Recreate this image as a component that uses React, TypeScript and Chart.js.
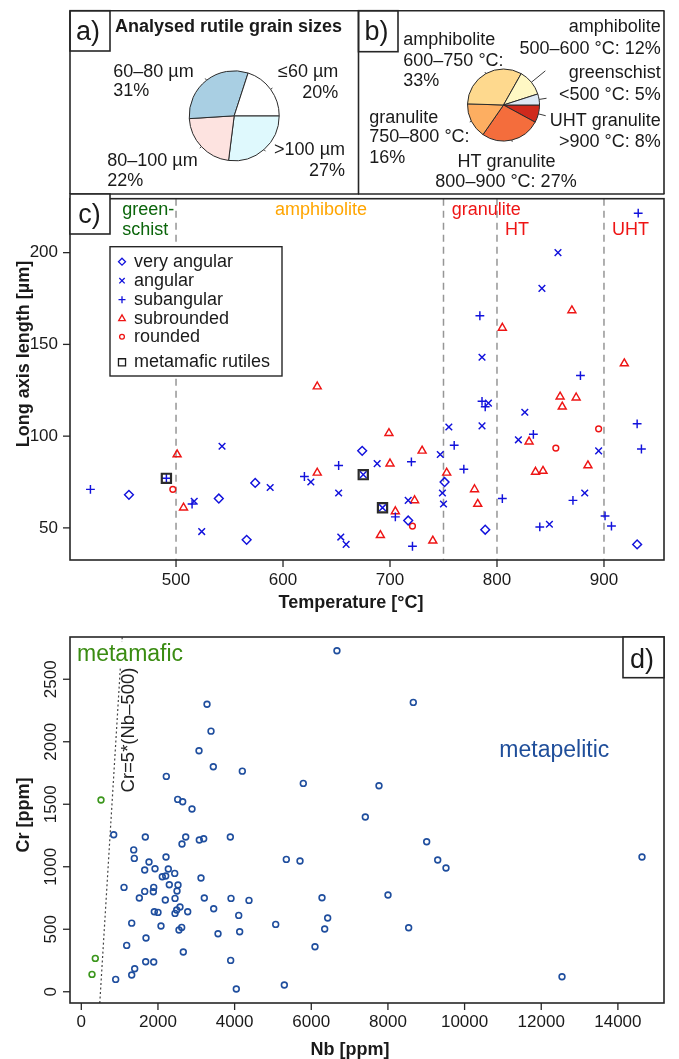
import React, { useEffect, useRef } from "react";
import { Chart, registerables } from "chart.js";
Chart.register(...registerables);

const FONT = '"Liberation Sans", Arial, Helvetica, sans-serif';
const W = 679;
const FRAME = "#262626";
const BLUE = "#1212dc";
const RED = "#ee1515";

// ---------------- panel a: grain sizes ----------------
const grainLabels = ["≤60 µm", "60–80 µm", "80–100 µm", ">100 µm"];
const grainShares = [20, 31, 22, 27];
const grainColors = ["#ffffff", "#a9cfe3", "#fde3e0", "#dff9fd"];
const grainTickExt = [1.05, 1.05, 1.05, 1.05];

// ---------------- panel b: metamorphic facies ----------------
const faciesLabels = [
  "greenschist <500 °C",
  "amphibolite 500–600 °C",
  "amphibolite 600–750 °C",
  "granulite 750–800 °C",
  "HT granulite 800–900 °C",
  "UHT granulite >900 °C",
];
const faciesShares = [5, 12, 33, 16, 27, 8];
const faciesColors = ["#dde9f5", "#fff8c4", "#fed98e", "#fdae61", "#f46d3c", "#cf2a1c"];
const faciesTickExt = [1.21, 1.5, 1.05, 1.05, 1.05, 1.21];

// ---------------- panel c: temperature vs long axis ----------------
const tempTicks = [500, 600, 700, 800, 900];
const lengthTicks = [50, 100, 150, 200];
const faciesBounds = [500, 750, 800, 900];

const veryAngular = [
  [456, 68], [540, 66], [566, 43.5], [574, 74.5], [674, 92], [717, 54], [751, 75], [789, 49], [931, 41],
];
const angular = [
  [517, 64.5], [524, 48], [543, 94.5], [588, 72], [626, 75], [652, 69], [654, 45], [659, 41],
  [675, 79], [688, 85], [693, 61], [717, 65], [747, 90], [749, 69], [750, 63], [755, 105],
  [786, 105.6], [792, 118], [786, 143], [842, 180.5], [857, 200], [826, 113], [820, 98],
  [895, 92], [882, 69], [849, 52],
];
const subangular = [
  [420, 71], [491, 77], [515, 63], [620, 78], [652, 84], [705, 56], [720, 86], [721, 40],
  [760, 95], [769, 82], [786, 119], [789, 116], [784, 165.6], [878, 133], [931, 106.7],
  [935, 93], [834, 101], [805, 66], [871, 65], [901, 56.5], [907, 51], [840, 50.5], [932, 221.5],
];
const subrounded = [
  [501, 90], [507, 61], [632, 80], [632, 127], [700, 85], [699, 101.6], [705, 59], [723, 65],
  [730, 92], [740, 43], [691, 46], [753, 80], [779, 71], [782, 63], [805, 159], [870, 168.5],
  [919, 139.6], [859, 121.5], [874, 121], [861, 116], [830, 97], [885, 84], [836, 80.5], [843, 81],
];
const rounded = [[497, 71], [721, 51], [895, 104], [855, 93.5]];
const metamaficRutiles = [[491, 77], [675, 79], [693, 61]];

// ---------------- panel d: Nb vs Cr ----------------
const nbTicks = [0, 2000, 4000, 6000, 8000, 10000, 12000, 14000];
const crTicks = [0, 500, 1000, 1500, 2000, 2500];
const metapelitic = [
  [6670, 2728], [3280, 2300], [3384, 2085], [3071, 1928], [3444, 1800], [4201, 1765], [2218, 1723],
  [5792, 1667], [2515, 1539], [2645, 1520], [2888, 1462], [845, 1256], [1670, 1238], [2724, 1238],
  [2627, 1182], [3079, 1214], [3193, 1224], [3888, 1238], [1367, 1135], [1383, 1067], [1766, 1038],
  [2210, 1078], [1654, 974], [1923, 984], [2270, 982], [2437, 947], [2113, 920], [2202, 926],
  [3123, 910], [5349, 1059], [5706, 1046], [1114, 835], [1889, 835], [1654, 803], [1879, 800],
  [2296, 856], [2523, 854], [2497, 806], [1514, 750], [2192, 734], [2445, 747], [3209, 750],
  [3906, 747], [4375, 731], [6280, 752], [2575, 678], [2489, 654], [2445, 627], [1905, 640],
  [2001, 635], [2776, 640], [3454, 664], [4107, 611], [6428, 590], [5072, 539], [6350, 502],
  [1315, 549], [2079, 526], [2549, 494], [2619, 515], [3567, 464], [4132, 480], [1688, 430],
  [1184, 371], [6097, 360], [2661, 318], [1680, 240], [1889, 238], [3897, 251], [1393, 184],
  [1315, 134], [897, 99], [4044, 22], [5297, 54], [8662, 2315], [7767, 1648], [7410, 1398],
  [9011, 1200], [9299, 1054], [9515, 990], [14629, 1078], [8002, 774], [8541, 512], [12542, 120],
];
const metamafic = [[514, 1534], [365, 267], [279, 139]];
const discrimNb0 = 500;
const discrimSlope = 5;

// ---------------- helpers ----------------
type TOpt = {
  size?: number; bold?: boolean; color?: string; align?: CanvasTextAlign;
  baseline?: CanvasTextBaseline; rot?: number;
};
function text(ctx: CanvasRenderingContext2D, s: string, x: number, y: number, o: TOpt = {}) {
  ctx.save();
  ctx.font = `${o.bold ? "bold " : ""}${o.size ?? 18}px ${FONT}`;
  ctx.fillStyle = o.color ?? "#1a1a1a";
  ctx.textAlign = o.align ?? "left";
  ctx.textBaseline = o.baseline ?? "alphabetic";
  ctx.translate(x, y);
  if (o.rot) ctx.rotate(o.rot);
  ctx.fillText(s, 0, 0);
  ctx.restore();
}
function line(ctx: CanvasRenderingContext2D, x1: number, y1: number, x2: number, y2: number, color = FRAME, lw = 1.6, dash: number[] = []) {
  ctx.save();
  ctx.strokeStyle = color;
  ctx.lineWidth = lw;
  ctx.setLineDash(dash);
  ctx.beginPath();
  ctx.moveTo(x1, y1);
  ctx.lineTo(x2, y2);
  ctx.stroke();
  ctx.restore();
}
function box(ctx: CanvasRenderingContext2D, x1: number, y1: number, x2: number, y2: number, fill?: string, lw = 1.6) {
  ctx.save();
  if (fill) {
    ctx.fillStyle = fill;
    ctx.fillRect(x1, y1, x2 - x1, y2 - y1);
  }
  ctx.strokeStyle = FRAME;
  ctx.lineWidth = lw;
  ctx.strokeRect(x1, y1, x2 - x1, y2 - y1);
  ctx.restore();
}
function marker(ctx: CanvasRenderingContext2D, style: string, x: number, y: number, r: number, color: string, lw: number) {
  ctx.save();
  ctx.strokeStyle = color;
  ctx.lineWidth = lw;
  ctx.beginPath();
  const s3 = Math.sin((2 * Math.PI) / 3), c3 = Math.cos((2 * Math.PI) / 3);
  switch (style) {
    case "rectRot":
      ctx.moveTo(x, y - r); ctx.lineTo(x + r, y); ctx.lineTo(x, y + r); ctx.lineTo(x - r, y); ctx.closePath();
      break;
    case "crossRot": {
      const d = r * Math.SQRT1_2;
      ctx.moveTo(x - d, y - d); ctx.lineTo(x + d, y + d); ctx.moveTo(x + d, y - d); ctx.lineTo(x - d, y + d);
      break;
    }
    case "cross":
      ctx.moveTo(x - r, y); ctx.lineTo(x + r, y); ctx.moveTo(x, y - r); ctx.lineTo(x, y + r);
      break;
    case "triangle":
      ctx.moveTo(x, y - r); ctx.lineTo(x + r * s3, y - r * c3); ctx.lineTo(x - r * s3, y - r * c3); ctx.closePath();
      break;
    case "circle":
      ctx.arc(x, y, r, 0, Math.PI * 2);
      break;
    case "rect": {
      const h = r * Math.SQRT1_2;
      ctx.rect(x - h, y - h, 2 * h, 2 * h);
      break;
    }
  }
  ctx.stroke();
  ctx.restore();
}
const toXY = (arr: number[][]) => arr.map(([x, y]) => ({ x, y }));

// pie tick marks (R style)
function pieTicks(chart: any, ext: number[]) {
  const ctx: CanvasRenderingContext2D = chart.ctx;
  const meta = chart.getDatasetMeta(0);
  meta.data.forEach((arc: any, i: number) => {
    const p = arc.getProps(["x", "y", "startAngle", "endAngle", "outerRadius"], true);
    const a = (p.startAngle + p.endAngle) / 2;
    const r = p.outerRadius;
    line(ctx, p.x + Math.cos(a) * r, p.y + Math.sin(a) * r, p.x + Math.cos(a) * r * ext[i], p.y + Math.sin(a) * r * ext[i], "#3a3a3a", 1);
  });
}

// ---------------- chart builders ----------------
function makePieA(canvas: HTMLCanvasElement) {
  const rev = <T,>(a: T[]) => [...a].reverse();
  return new Chart(canvas, {
    type: "pie",
    data: {
      labels: rev(grainLabels),
      datasets: [{
        data: rev(grainShares),
        backgroundColor: rev(grainColors),
        borderColor: "#2a2a2a",
        borderWidth: 1,
        hoverOffset: 0,
      }],
    },
    options: {
      animation: false, responsive: false, devicePixelRatio: 1, events: [],
      rotation: 90,
      layout: { padding: { left: 188.7, right: 399.3, top: 70.3, bottom: 38.7 } },
      plugins: { legend: { display: false }, tooltip: { enabled: false } },
    },
    plugins: [{
      id: "decorA",
      afterDraw(chart: any) {
        const ctx: CanvasRenderingContext2D = chart.ctx;
        pieTicks(chart, [...grainTickExt].reverse());
        line(ctx, 70, 10.7, 359, 10.7);
        line(ctx, 70, 10.7, 70, 194);
        line(ctx, 70, 194, 359, 194);
        line(ctx, 358.5, 10.7, 358.5, 194);
        box(ctx, 70, 10.7, 110, 51);
        text(ctx, "a)", 76, 40, { size: 27 });
        text(ctx, "Analysed rutile grain sizes", 115, 31.7, { bold: true, size: 18 });
        text(ctx, grainLabels[1], 113.3, 76.7);
        text(ctx, grainShares[1] + "%", 113.3, 95.7);
        text(ctx, grainLabels[0], 338.3, 77.3, { align: "right" });
        text(ctx, grainShares[0] + "%", 338.3, 97.5, { align: "right" });
        text(ctx, grainLabels[2], 107.3, 165.7);
        text(ctx, grainShares[2] + "%", 107.3, 185.7);
        text(ctx, grainLabels[3], 345, 155, { align: "right" });
        text(ctx, grainShares[3] + "%", 345, 175.5, { align: "right" });
      },
    }],
  } as any);
}

function makePieB(canvas: HTMLCanvasElement) {
  const rev = <T,>(a: T[]) => [...a].reverse();
  return new Chart(canvas, {
    type: "pie",
    data: {
      labels: rev(faciesLabels),
      datasets: [{
        data: rev(faciesShares),
        backgroundColor: rev(faciesColors),
        borderColor: "#2a2a2a",
        borderWidth: 1,
        hoverOffset: 0,
      }],
    },
    options: {
      animation: false, responsive: false, devicePixelRatio: 1, events: [],
      rotation: 90,
      layout: { padding: { left: 467, right: 139, top: 68.5, bottom: 58.5 } },
      plugins: { legend: { display: false }, tooltip: { enabled: false } },
    },
    plugins: [{
      id: "decorB",
      afterDraw(chart: any) {
        const ctx: CanvasRenderingContext2D = chart.ctx;
        pieTicks(chart, [...faciesTickExt].reverse());
        line(ctx, 358, 10.7, 664.5, 10.7);
        line(ctx, 664, 10.7, 664, 194);
        line(ctx, 358, 194, 664.5, 194);
        box(ctx, 358.5, 10.7, 398, 51.7);
        text(ctx, "b)", 364.5, 39.5, { size: 27 });
        text(ctx, "amphibolite", 403.3, 45);
        text(ctx, "600–750 °C:", 403.3, 65.7);
        text(ctx, faciesShares[2] + "%", 403.3, 86);
        text(ctx, "amphibolite", 660.7, 32.3, { align: "right" });
        text(ctx, "500–600 °C: " + faciesShares[1] + "%", 660.7, 54, { align: "right" });
        text(ctx, "greenschist", 660.7, 78.3, { align: "right" });
        text(ctx, "<500 °C: " + faciesShares[0] + "%", 660.7, 100, { align: "right" });
        text(ctx, "UHT granulite", 660.7, 126, { align: "right" });
        text(ctx, ">900 °C: " + faciesShares[5] + "%", 660.7, 146.7, { align: "right" });
        text(ctx, "granulite", 369.3, 123.3);
        text(ctx, "750–800 °C:", 369.3, 141.7);
        text(ctx, faciesShares[3] + "%", 369.3, 163.3);
        text(ctx, "HT granulite", 506.5, 166.7, { align: "center" });
        text(ctx, "800–900 °C: " + faciesShares[4] + "%", 506, 186.7, { align: "center" });
      },
    }],
  } as any);
}

const OFF_C = 190;
function scatterDs(data: number[][], style: string, color: string, r: number, lw = 1.45) {
  return {
    data: toXY(data),
    pointStyle: style,
    pointRadius: r,
    pointHoverRadius: r,
    borderColor: color,
    pointBorderColor: color,
    backgroundColor: "rgba(0,0,0,0)",
    pointBackgroundColor: "rgba(0,0,0,0)",
    pointBorderWidth: lw,
    borderWidth: lw,
    showLine: false,
  };
}

function makeScatterC(canvas: HTMLCanvasElement) {
  const Y = (y: number) => y - OFF_C;
  return new Chart(canvas, {
    type: "scatter",
    data: {
      datasets: [
        scatterDs(metamaficRutiles, "rect", "#2b2b2b", 6.5, 2.2),
        scatterDs(veryAngular, "rectRot", BLUE, 4.4),
        scatterDs(angular, "crossRot", BLUE, 4.7),
        scatterDs(subangular, "cross", BLUE, 4.4),
        scatterDs(subrounded, "triangle", RED, 4.6),
        scatterDs(rounded, "circle", RED, 2.9),
      ],
    },
    options: {
      animation: false, responsive: false, devicePixelRatio: 1, events: [],
      layout: { padding: { left: 70, right: 15, top: 4, bottom: 60 } },
      scales: {
        x: { type: "linear", display: false, min: 400.9, max: 956.1 },
        y: { type: "linear", display: false, min: 32.5, max: 229.4 },
      },
      plugins: { legend: { display: false }, tooltip: { enabled: false } },
    },
    plugins: [{
      id: "decorC",
      beforeDatasetsDraw(chart: any) {
        const ctx: CanvasRenderingContext2D = chart.ctx;
        const xs = chart.scales.x, ca = chart.chartArea;
        for (const t of faciesBounds) {
          const px = xs.getPixelForValue(t);
          line(ctx, px, ca.top, px, ca.bottom, "#969696", 1.5, [7, 5]);
        }
        text(ctx, "green-", 122.3, Y(215), { color: "#0b650b" });
        text(ctx, "schist", 122.3, Y(234.5), { color: "#0b650b" });
        text(ctx, "amphibolite", 275, Y(215), { color: "#ffa500" });
        text(ctx, "granulite", 451.7, Y(215), { color: RED });
        text(ctx, "HT", 505, Y(235), { color: RED });
        text(ctx, "UHT", 612, Y(235), { color: RED });
      },
      afterDatasetsDraw(chart: any) {
        const ctx: CanvasRenderingContext2D = chart.ctx;
        const xs = chart.scales.x, ys = chart.scales.y, ca = chart.chartArea;
        box(ctx, ca.left, ca.top, ca.right, ca.bottom);
        for (const t of tempTicks) {
          const px = xs.getPixelForValue(t);
          line(ctx, px, ca.bottom, px, ca.bottom + 7, FRAME, 1.3);
          text(ctx, String(t), px, Y(580), { size: 17, align: "center", baseline: "middle" });
        }
        for (const t of lengthTicks) {
          const py = ys.getPixelForValue(t);
          line(ctx, ca.left - 7, py, ca.left, py, FRAME, 1.3);
          text(ctx, String(t), 58, py, { size: 17, align: "right", baseline: "middle" });
        }
        text(ctx, "Temperature [°C]", 351, Y(608), { bold: true, align: "center" });
        text(ctx, "Long axis length [µm]", 28.5, Y(354), { bold: true, align: "center", rot: -Math.PI / 2 });
        // panel label
        box(ctx, 70, Y(194), 110, Y(234), "#ffffff");
        text(ctx, "c)", 78.3, Y(223.3), { size: 27 });
        // legend
        box(ctx, 110, Y(246.7), 282, Y(376), "#ffffff", 1.4);
        const items: [string, string, string, number, number][] = [
          ["very angular", "rectRot", BLUE, 3.5, 1.3],
          ["angular", "crossRot", BLUE, 3.8, 1.3],
          ["subangular", "cross", BLUE, 3.5, 1.3],
          ["subrounded", "triangle", RED, 3.8, 1.3],
          ["rounded", "circle", RED, 2.4, 1.3],
          ["metamafic rutiles", "rect", "#1a1a1a", 5, 1.3],
        ];
        const ly = [261.7, 280.7, 299.7, 318.7, 336.7, 362.3];
        items.forEach(([lab, st, col, r, lw], i) => {
          marker(ctx, st, 122, Y(ly[i]), r, col, lw);
          text(ctx, lab, 134, Y(ly[i]), { baseline: "middle" });
        });
      },
    }],
  } as any);
}

const OFF_D = 620;
function makeScatterD(canvas: HTMLCanvasElement) {
  const Y = (y: number) => y - OFF_D;
  return new Chart(canvas, {
    type: "scatter",
    data: {
      datasets: [
        scatterDs(metapelitic, "circle", "#1f4e9e", 2.9, 1.6),
        scatterDs(metamafic, "circle", "#3b961c", 2.9, 1.6),
      ],
    },
    options: {
      animation: false, responsive: false, devicePixelRatio: 1, events: [],
      layout: { padding: { left: 70, right: 15, top: 17, bottom: 56 } },
      scales: {
        x: { type: "linear", display: false, min: -295, max: 15203 },
        y: { type: "linear", display: false, min: -90, max: 2838 },
      },
      plugins: { legend: { display: false }, tooltip: { enabled: false } },
    },
    plugins: [{
      id: "decorD",
      beforeDatasetsDraw(chart: any) {
        const ctx: CanvasRenderingContext2D = chart.ctx;
        const xs = chart.scales.x, ys = chart.scales.y, ca = chart.chartArea;
        const y0 = ys.min, y1 = ys.max;
        ctx.save();
        ctx.beginPath();
        ctx.rect(ca.left, ca.top, ca.right - ca.left, ca.bottom - ca.top);
        ctx.clip();
        line(ctx,
          xs.getPixelForValue(discrimNb0 + y0 / discrimSlope), ys.getPixelForValue(y0),
          xs.getPixelForValue(discrimNb0 + y1 / discrimSlope), ys.getPixelForValue(y1),
          "#444444", 1.2, [2, 2.5]);
        ctx.restore();
        ctx.save();
        ctx.fillStyle = "#ffffff";
        ctx.fillRect(75, Y(642), 112, 25);
        ctx.restore();
        text(ctx, "metamafic", 77, Y(661), { size: 23, color: "#3a8c12" });
        text(ctx, "metapelitic", 499.3, Y(756.7), { size: 23, color: "#1f4e9a" });
        text(ctx, "Cr=5*(Nb–500)", 134, Y(730), { size: 18.5, align: "center", rot: -Math.PI / 2, color: "#222" });
      },
      afterDatasetsDraw(chart: any) {
        const ctx: CanvasRenderingContext2D = chart.ctx;
        const xs = chart.scales.x, ys = chart.scales.y, ca = chart.chartArea;
        box(ctx, ca.left, ca.top, ca.right, ca.bottom);
        for (const t of nbTicks) {
          const px = xs.getPixelForValue(t);
          line(ctx, px, ca.bottom, px, ca.bottom + 7, FRAME, 1.3);
          text(ctx, String(t), px, Y(1022.5), { size: 17, align: "center", baseline: "middle" });
        }
        for (const t of crTicks) {
          const py = ys.getPixelForValue(t);
          line(ctx, ca.left - 7, py, ca.left, py, FRAME, 1.3);
          text(ctx, String(t), 51, py, { size: 17, align: "center", baseline: "middle", rot: -Math.PI / 2 });
        }
        text(ctx, "Nb [ppm]", 350, Y(1054.5), { bold: true, align: "center" });
        text(ctx, "Cr [ppm]", 28.5, Y(815), { bold: true, align: "center", rot: -Math.PI / 2 });
        box(ctx, 623, ca.top, ca.right, Y(677.7), "#ffffff");
        text(ctx, "d)", 630, Y(668.3), { size: 27 });
      },
    }],
  } as any);
}

export default function App() {
  const aRef = useRef<HTMLCanvasElement>(null);
  const bRef = useRef<HTMLCanvasElement>(null);
  const cRef = useRef<HTMLCanvasElement>(null);
  const dRef = useRef<HTMLCanvasElement>(null);
  useEffect(() => {
    const charts: Chart[] = [];
    if (aRef.current) charts.push(makePieA(aRef.current));
    if (bRef.current) charts.push(makePieB(bRef.current));
    if (cRef.current) charts.push(makeScatterC(cRef.current));
    if (dRef.current) charts.push(makeScatterD(dRef.current));
    return () => charts.forEach((c) => c.destroy());
  }, []);
  const cs = (top: number, h: number): React.CSSProperties => ({
    position: "absolute", left: 0, top, width: W, height: h, display: "block",
  });
  return (
    <div style={{ position: "absolute", left: 0, top: 0, width: W, height: 1059, background: "#ffffff", overflow: "hidden" }}>
      <canvas ref={aRef} width={W} height={200} style={cs(0, 200)} />
      <canvas ref={bRef} width={W} height={200} style={cs(0, 200)} />
      <canvas ref={cRef} width={W} height={430} style={cs(OFF_C, 430)} />
      <canvas ref={dRef} width={W} height={439} style={cs(OFF_D, 439)} />
    </div>
  );
}
